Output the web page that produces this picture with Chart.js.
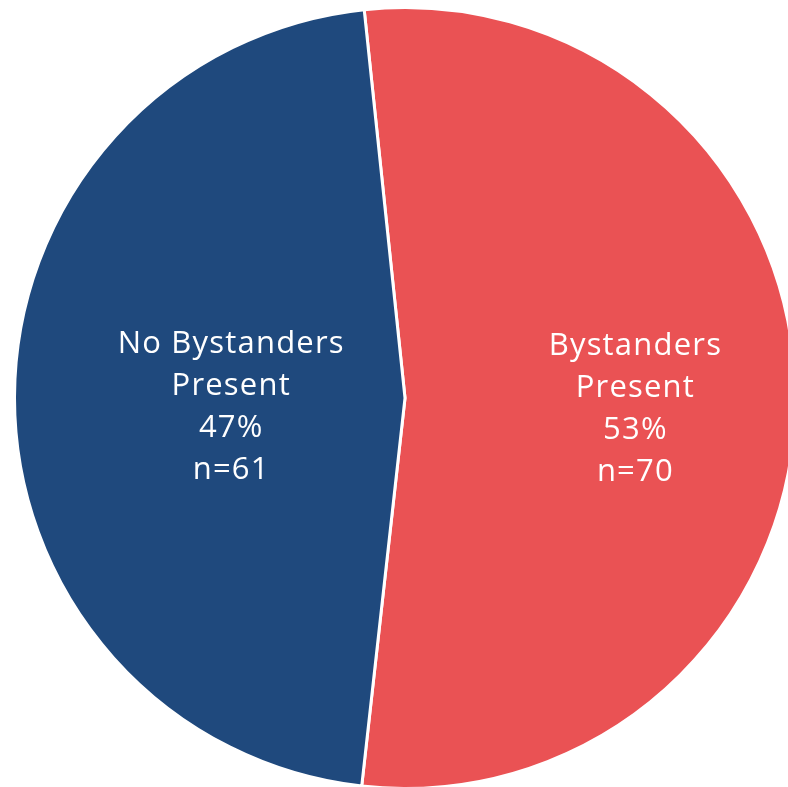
<!DOCTYPE html>
<html>
<head>
<meta charset="utf-8">
<script src="https://cdn.jsdelivr.net/npm/chart.js@4.4.1/dist/chart.umd.min.js"></script>
<style>
  html, body { margin: 0; padding: 0; background: #ffffff; overflow: hidden; width: 788px; height: 787px; }
  #wrap { position: absolute; left: 13px; top: 6px; width: 784px; height: 784px; }
</style>
</head>
<body>
<div id="wrap"><canvas id="pie"></canvas></div>
<script>
// Witness presence at the incident
const categories = ['Bystanders Present', 'No Bystanders Present'];
const counts = [70, 61];
const percentLabels = ['53%', '47%'];
const sliceColors = ['#EA5254', '#1F497D'];

// Labels drawn inside each slice: name (wrapped), percent, count
const sliceLabelPlugin = {
  id: 'sliceLabels',
  afterDatasetsDraw(chart, args, opts) {
    const ctx = chart.ctx;
    const meta = chart.getDatasetMeta(0);
    ctx.save();
    ctx.fillStyle = opts.color;
    ctx.font = opts.font;
    if ('letterSpacing' in ctx) ctx.letterSpacing = opts.letterSpacing;
    ctx.textAlign = 'center';
    ctx.textBaseline = 'middle';
    meta.data.forEach((arc, i) => {
      const p = arc.getProps(['x', 'y', 'startAngle', 'endAngle', 'outerRadius'], true);
      const mid = (p.startAngle + p.endAngle) / 2;
      const r = p.outerRadius * opts.radialFraction[i];
      const cx = p.x + Math.cos(mid) * r;
      const cy = p.y + Math.sin(mid) * r + opts.shiftY;
      const words = categories[i].split(' ');
      const nameLines = words.length > 2
        ? [words.slice(0, 2).join(' '), words.slice(2).join(' ')]
        : [words[0], words.slice(1).join(' ')];
      const lines = [...nameLines, percentLabels[i], 'n=' + counts[i]];
      const top = cy - (lines.length - 1) * opts.lineHeight / 2;
      lines.forEach((t, k) => ctx.fillText(t, cx, top + k * opts.lineHeight));
    });
    ctx.restore();
  }
};

new Chart(document.getElementById('pie'), {
  type: 'pie',
  data: {
    labels: categories,
    datasets: [{
      data: counts,
      backgroundColor: sliceColors,
      borderColor: '#ffffff',
      borderWidth: 3
    }]
  },
  options: {
    responsive: true,
    maintainAspectRatio: false,
    animation: false,
    rotation: -6,
    layout: { padding: 0 },
    plugins: {
      legend: { display: false },
      tooltip: { enabled: false },
      sliceLabels: {
        color: '#ffffff',
        font: '31px "Open Sans", "Liberation Sans", Arial, sans-serif',
        letterSpacing: '1.2px',
        lineHeight: 42,
        radialFraction: [0.59, 0.445],
        shiftY: 10
      }
    }
  },
  plugins: [sliceLabelPlugin]
});
</script>
</body>
</html>
